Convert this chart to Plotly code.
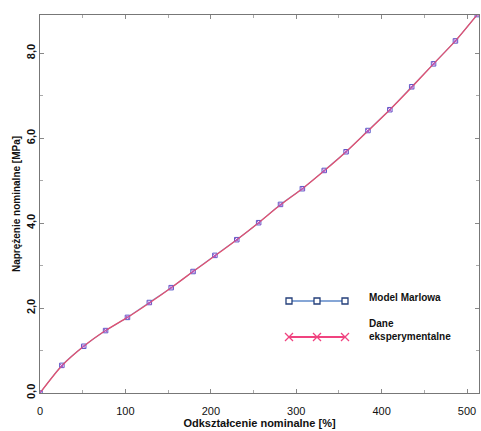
import plotly.graph_objects as go

strain = [0, 25.6, 51.2, 76.8, 102.4, 128, 153.6, 179.2, 204.8, 230.4, 256,
          281.6, 307.2, 332.8, 358.4, 384, 409.6, 435.2, 460.8, 486.4, 512]
model_stress = [0, 0.65, 1.10, 1.47, 1.78, 2.13, 2.48, 2.86, 3.24, 3.61, 4.01,
                4.44, 4.81, 5.24, 5.68, 6.18, 6.67, 7.21, 7.75, 8.29, 8.91]
exp_stress = [0, 0.64, 1.10, 1.47, 1.78, 2.12, 2.48, 2.86, 3.23, 3.61, 4.01,
              4.43, 4.81, 5.23, 5.68, 6.17, 6.67, 7.20, 7.75, 8.29, 8.91]
x_ticks = [0, 100, 200, 300, 400, 500]
y_ticks = [0, 2, 4, 6, 8]
y_ticktext = ["0,0", "2,0", "4,0", "6,0", "8,0"]

MODEL_LINE = "#86a6d6"
MODEL_MARK = "#243f7a"
EXP_COL = "#f0437f"
CURVE_COL = "#e2506f"
FONT = "Liberation Sans, Arial, sans-serif"

fig = go.Figure()
fig.add_trace(go.Scatter(
    x=strain, y=model_stress, mode="lines+markers", name="Model Marlowa",
    line=dict(color=MODEL_LINE, width=1.2, shape="spline", smoothing=0.6),
    marker=dict(symbol="square-open", size=4.5, color="#5a5ac8", line=dict(width=1)),
    showlegend=False))
fig.add_trace(go.Scatter(
    x=strain, y=exp_stress, mode="lines+markers", name="Dane eksperymentalne",
    line=dict(color=CURVE_COL, width=1.3, shape="spline", smoothing=0.6),
    marker=dict(symbol="x-thin-open", size=4, color="#b050c8", line=dict(width=1, color="#b050c8")),
    showlegend=False))

# manual legend (paper coords)
L, R, T, B = 40, 479, 15, 393
W, H = R - L, B - T
def px(x): return (x - L) / W
def py(y): return (B - y) / H

shapes = []
annotations = []
yM = 301
shapes.append(dict(type="line", xref="paper", yref="paper", x0=px(289), x1=px(345), y0=py(yM), y1=py(yM),
                   line=dict(color=MODEL_LINE, width=2)))
for cx in (289, 317, 345):
    shapes.append(dict(type="rect", xref="paper", yref="paper", x0=px(cx - 3), x1=px(cx + 3),
                       y0=py(yM + 3), y1=py(yM - 3), line=dict(color=MODEL_MARK, width=1.3), fillcolor="white"))
yE = 337
shapes.append(dict(type="line", xref="paper", yref="paper", x0=px(289), x1=px(345), y0=py(yE), y1=py(yE),
                   line=dict(color=EXP_COL, width=2)))
for cx in (289, 317, 345):
    shapes.append(dict(type="line", xref="paper", yref="paper", x0=px(cx - 4), x1=px(cx + 4),
                       y0=py(yE - 4), y1=py(yE + 4), line=dict(color=EXP_COL, width=1.3)))
    shapes.append(dict(type="line", xref="paper", yref="paper", x0=px(cx - 4), x1=px(cx + 4),
                       y0=py(yE + 4), y1=py(yE - 4), line=dict(color=EXP_COL, width=1.3)))
annotations.append(dict(xref="paper", yref="paper", x=px(367), y=py(297), text="<b>Model Marlowa</b>",
                        showarrow=False, xanchor="left", yanchor="middle", font=dict(size=10, color="#111", family=FONT)))
annotations.append(dict(xref="paper", yref="paper", x=px(367), y=py(330), text="<b>Dane<br>eksperymentalne</b>",
                        showarrow=False, xanchor="left", yanchor="middle", align="left",
                        font=dict(size=10, color="#111", family=FONT)))

fig.update_layout(
    width=481, height=431,
    margin=dict(l=L, r=481 - R, t=T, b=431 - B),
    paper_bgcolor="white", plot_bgcolor="white",
    font=dict(family=FONT, color="#111"),
    showlegend=False,
    shapes=shapes, annotations=annotations,
    xaxis=dict(range=[0, 514], tickvals=x_ticks, ticks="inside", ticklen=4, tickcolor="#888",
               minor=dict(dtick=50, ticks="inside", ticklen=3, tickcolor="#aaa"),
               showline=True, linecolor="#777", linewidth=1, mirror="allticks", showgrid=False, zeroline=False,
               ticklabelstandoff=8,
               tickfont=dict(size=11, family=FONT, color="#111"), tickprefix="<b>", ticksuffix="</b>",
               title=dict(text="<b>Odkształcenie nominalne [%]</b>", font=dict(size=11, family=FONT), standoff=3)),
    yaxis=dict(range=[0, 8.9], tickvals=y_ticks, ticktext=["<b>" + t + "</b>" for t in y_ticktext],
               ticks="inside", ticklen=4, tickcolor="#888", tickangle=-90,
               minor=dict(dtick=1, ticks="inside", ticklen=3, tickcolor="#aaa"),
               showline=True, linecolor="#777", linewidth=1, mirror="allticks", showgrid=False, zeroline=False,
               tickfont=dict(size=11, family=FONT, color="#111"),
               title=dict(text="<b>Naprężenie nominalne [MPa]</b>", font=dict(size=10, family=FONT), standoff=2)),
)
fig.write_html("out.html")
